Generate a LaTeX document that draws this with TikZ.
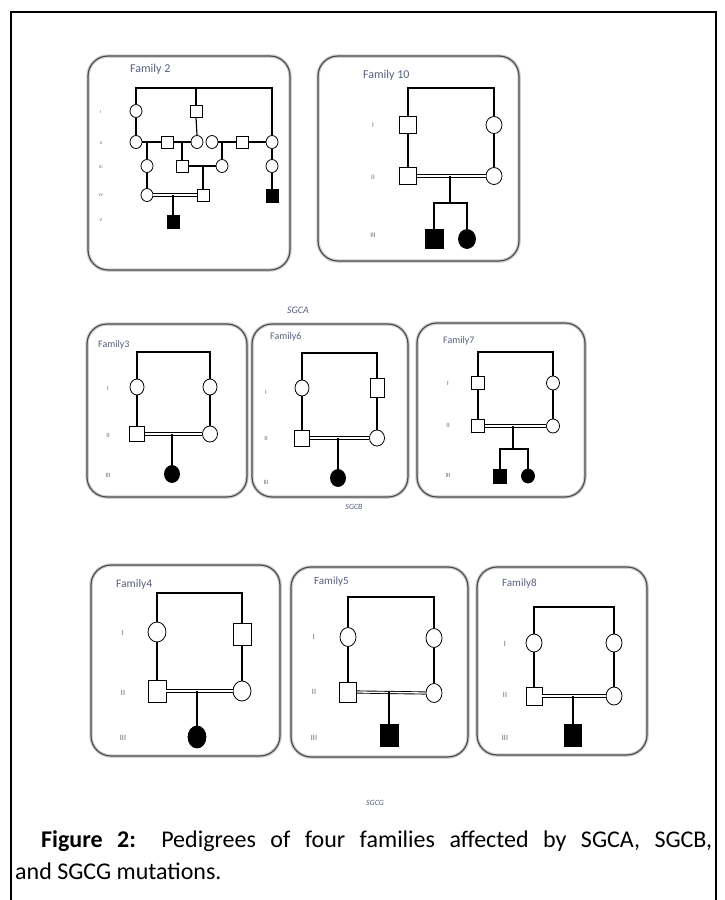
\documentclass[tikz,border=0pt]{standalone}
\usepackage{fontspec}
\setmainfont{Carlito}
\usetikzlibrary{shapes.geometric}
\definecolor{famc}{RGB}{85,95,125}
\definecolor{genc}{RGB}{100,100,100}
\begin{document}
\begin{tikzpicture}[x=1pt,y=-1pt,
 male/.style={draw, rectangle, inner sep=0pt, line width=0.8pt, fill=white},
 female/.style={draw, ellipse, inner sep=0pt, line width=0.8pt, fill=white},
 aff/.style={fill=black},
 sz/.style 2 args={minimum width=#1pt, minimum height=#2pt},
 link/.style={line width=1.5pt},
 cons/.style={double, line width=0.9pt, double distance=1.3pt},
 famframe/.style={draw=black!70, line width=1.2pt, rounded corners=20pt},
 famshadow/.style={draw=black!18, line width=3.5pt, rounded corners=20pt},
 famlabel/.style={text=famc, anchor=west, inner sep=0pt},
 gen/.style={text=genc, inner sep=0pt},
 genelabel/.style={font=\fontsize{9}{10}\selectfont\itshape, text=famc, inner sep=0pt},
]
\useasboundingbox (0,0) rectangle (724,900);
% outer frame
\draw[line width=1.2pt] (11,900) -- (11,12) -- (716,12) -- (716,900);

% ---------- family boxes ----------
\foreach \a/\b/\c/\d in {88/56/290/270, 318/56/519/261, 87/324/247/497, 252/324/408/497, 417/323/585/497, 91/565/280/756, 291/567/468/757, 477/567/647/755}{
  \draw[famshadow] (\a,\b) rectangle (\c,\d);
  \draw[famframe] (\a,\b) rectangle (\c,\d);
}

% ---------- Family 2 ----------
\node[famlabel, font=\fontsize{12}{13}\selectfont] (l2) at (130,69) {Family 2};
\begin{scope}[gen/.append style={font=\fontsize{4.5}{5}\selectfont}]
\node[gen] (g2a) at (101,112) {I};
\node[gen] (g2b) at (101,143) {II};
\node[gen] (g2c) at (101,167) {III};
\node[gen] (g2d) at (101,195) {IV};
\node[gen] (g2e) at (101,220) {V};
\end{scope}
\node[female, sz={12}{13}] (f2a) at (136,111) {};
\node[male, sz={12}{12}] (f2b) at (196,111) {};
\node[female, sz={12}{13}] (f2c) at (136,142) {};
\node[male, sz={12}{12}] (f2d) at (167,142) {};
\node[female, sz={12}{13}] (f2e) at (197,142) {};
\node[female, sz={12}{13}] (f2f) at (212,142) {};
\node[male, sz={12}{12}] (f2g) at (242,142) {};
\node[female, sz={12}{13}] (f2h) at (272,142) {};
\node[female, sz={12}{13}] (f2i) at (147,166) {};
\node[male, sz={12}{12}] (f2j) at (182,166) {};
\node[female, sz={12}{13}] (f2k) at (222,166) {};
\node[female, sz={12}{13}] (f2l) at (272,166) {};
\node[female, sz={12}{13}] (f2m) at (147,195) {};
\node[male, sz={12}{12}] (f2n) at (203,195) {};
\node[male, aff, sz={12}{13}] (f2o) at (272,196) {};
\node[male, aff, sz={12}{13}] (f2p) at (173,222) {};
\coordinate (f2tr) at (272,88);
\coordinate (f2tm) at (196,88);
\coordinate (f2x1) at (147,142);
\coordinate (f2x2) at (182,142);
\coordinate (f2x3) at (222,142);
\coordinate (f2x4) at (203,166);
\coordinate (f2x5) at (173,195);
\begin{scope}[link/.append style={line width=1.2pt}]
\draw[link] (f2a.north) |- (f2tr) -- (f2h.north);
\draw[link] (f2tm) -- (f2b.north);
\draw[link] (f2a.south) -- (f2c.north);
\draw[link] (f2b.south) -- (f2e.north);
\draw[link] (f2c.east) -- (f2d.west);
\draw[link] (f2d.east) -- (f2e.west);
\draw[link] (f2f.east) -- (f2g.west);
\draw[link] (f2g.east) -- (f2h.west);
\draw[link] (f2x1) -- (f2i.north);
\draw[link] (f2i.south) -- (f2m.north);
\draw[link] (f2x2) -- (f2j.north);
\draw[link] (f2x3) -- (f2k.north);
\draw[link] (f2j.east) -- (f2k.west);
\draw[link] (f2x4) -- (f2n.north);
\draw[cons] (f2m.east) -- (f2n.west);
\draw[link] (f2x5) -- (f2p.north);
\draw[link] (f2h.south) -- (f2l.north);
\draw[link] (f2l.south) -- (f2o.north);
\end{scope}

% ---------- Family 10 ----------
\node[famlabel, font=\fontsize{12}{13}\selectfont] (l10) at (363,75) {Family 10};
\begin{scope}[gen/.append style={font=\fontsize{7}{8}\selectfont}]
\node[gen] (g10a) at (373,125) {I};
\node[gen] (g10b) at (373,177) {II};
\node[gen] (g10c) at (373,235) {III};
\end{scope}
\node[male, sz={17}{17}] (f10a) at (408,125) {};
\node[female, sz={16}{17}] (f10b) at (494,125) {};
\node[male, sz={17}{17}] (f10c) at (408,176) {};
\node[female, sz={16}{17}] (f10d) at (494,176) {};
\node[male, aff, sz={18}{19}] (f10e) at (434,239) {};
\node[female, aff, sz={17}{19}] (f10f) at (467,239) {};
\coordinate (f10tr) at (494,88);
\coordinate (f10m) at (450,176);
\coordinate (f10s) at (450,203);
\draw[link] (f10a.north) |- (f10tr) -- (f10b.north);
\draw[link] (f10a.south) -- (f10c.north);
\draw[link] (f10b.south) -- (f10d.north);
\draw[cons] (f10c.east) -- (f10d.west);
\draw[link] (f10m) -- (f10s);
\draw[link] (f10e.north) |- (f10s) -| (f10f.north);

% ---------- SGCA ----------
\node[genelabel, font=\fontsize{10}{11}\selectfont\itshape] (sgca) at (298,310) {SGCA};

% ---------- Family 3 ----------
\node[famlabel, font=\fontsize{10}{11}\selectfont] (l3) at (98,345) {Family3};
\begin{scope}[gen/.append style={font=\fontsize{6.5}{7}\selectfont}]
\node[gen] (g3a) at (108,388) {I};
\node[gen] (g3b) at (108,435) {II};
\node[gen] (g3c) at (108,475) {III};
\end{scope}
\node[female, sz={14}{16}] (f3a) at (137,387) {};
\node[female, sz={14}{16}] (f3b) at (210,387) {};
\node[male, sz={15}{15}] (f3c) at (137,434) {};
\node[female, sz={15}{16}] (f3d) at (210,434) {};
\node[female, aff, sz={15}{17}] (f3e) at (172,474) {};
\coordinate (f3tr) at (210,352);
\coordinate (f3m) at (172,434);
\draw[link] (f3a.north) |- (f3tr) -- (f3b.north);
\draw[link] (f3a.south) -- (f3c.north);
\draw[link] (f3b.south) -- (f3d.north);
\draw[cons] (f3c.east) -- (f3d.west);
\draw[link] (f3m) -- (f3e.north);

% ---------- Family 6 ----------
\node[famlabel, font=\fontsize{10}{11}\selectfont] (l6) at (270,337) {Family6};
\begin{scope}[gen/.append style={font=\fontsize{6.5}{7}\selectfont}]
\node[gen] (g6a) at (266,392) {I};
\node[gen] (g6b) at (266,438) {II};
\node[gen] (g6c) at (266,482) {III};
\end{scope}
\node[female, sz={14}{16}] (f6a) at (302,388) {};
\node[male, sz={14}{19}] (f6b) at (377,388) {};
\node[male, sz={15}{16}] (f6c) at (302,438) {};
\node[female, sz={15}{16}] (f6d) at (377,438) {};
\node[female, aff, sz={15}{17}] (f6e) at (338,478) {};
\coordinate (f6tr) at (377,353);
\coordinate (f6m) at (338,438);
\draw[link] (f6a.north) |- (f6tr) -- (f6b.north);
\draw[link] (f6a.south) -- (f6c.north);
\draw[link] (f6b.south) -- (f6d.north);
\draw[cons] (f6c.east) -- (f6d.west);
\draw[link] (f6m) -- (f6e.north);

% ---------- Family 7 ----------
\node[famlabel, font=\fontsize{10}{11}\selectfont] (l7) at (443,341) {Family7};
\begin{scope}[gen/.append style={font=\fontsize{6.5}{7}\selectfont}]
\node[gen] (g7a) at (448,383) {I};
\node[gen] (g7b) at (448,425) {II};
\node[gen] (g7c) at (448,475) {III};
\end{scope}
\node[male, sz={13}{13}] (f7a) at (478,383) {};
\node[female, sz={13}{14}] (f7b) at (553,383) {};
\node[male, sz={13}{13}] (f7c) at (478,426) {};
\node[female, sz={13}{14}] (f7d) at (553,426) {};
\node[male, aff, sz={13}{14}] (f7e) at (500,476) {};
\node[female, aff, sz={13}{14}] (f7f) at (528,476) {};
\coordinate (f7tr) at (553,352);
\coordinate (f7m) at (513,426);
\coordinate (f7s) at (513,449);
\draw[link] (f7a.north) |- (f7tr) -- (f7b.north);
\draw[link] (f7a.south) -- (f7c.north);
\draw[link] (f7b.south) -- (f7d.north);
\draw[cons] (f7c.east) -- (f7d.west);
\draw[link] (f7m) -- (f7s);
\draw[link] (f7e.north) |- (f7s) -| (f7f.north);

% ---------- SGCB ----------
\node[genelabel, font=\fontsize{8}{9}\selectfont\itshape] (sgcb) at (354,507) {SGCB};

% ---------- Family 4 ----------
\node[famlabel, font=\fontsize{11.5}{12}\selectfont] (l4) at (116,584) {Family4};
\begin{scope}[gen/.append style={font=\fontsize{8}{9}\selectfont}]
\node[gen] (g4a) at (123,633) {I};
\node[gen] (g4b) at (123,693) {II};
\node[gen] (g4c) at (123,738) {III};
\end{scope}
\node[female, sz={18}{20}] (f4a) at (157,632) {};
\node[male, sz={18}{22}] (f4b) at (242,634) {};
\node[male, sz={18}{22}] (f4c) at (157,691) {};
\node[female, sz={18}{20}] (f4d) at (242,691) {};
\node[female, aff, sz={18}{22}] (f4e) at (197,737) {};
\coordinate (f4tr) at (242,593);
\coordinate (f4m) at (197,691);
\draw[link] (f4a.north) |- (f4tr) -- (f4b.north);
\draw[link] (f4a.south) -- (f4c.north);
\draw[link] (f4b.south) -- (f4d.north);
\draw[cons] (f4c.east) -- (f4d.west);
\draw[link] (f4m) -- (f4e.north);

% ---------- Family 5 ----------
\node[famlabel, font=\fontsize{11}{12}\selectfont] (l5) at (314,582) {Family5};
\begin{scope}[gen/.append style={font=\fontsize{8}{9}\selectfont}]
\node[gen] (g5a) at (314,637) {I};
\node[gen] (g5b) at (314,692) {II};
\node[gen] (g5c) at (314,738) {III};
\end{scope}
\node[female, sz={16}{19}] (f5a) at (348,637) {};
\node[female, sz={16}{19}] (f5b) at (434,638) {};
\node[male, sz={17}{20}] (f5c) at (348,692) {};
\node[female, sz={16}{19}] (f5d) at (434,693) {};
\node[male, aff, sz={18}{22}] (f5e) at (389,735) {};
\coordinate (f5tr) at (434,597);
\coordinate (f5m) at (389,692);
\draw[link] (f5a.north) |- (f5tr) -- (f5b.north);
\draw[link] (f5a.south) -- (f5c.north);
\draw[link] (f5b.south) -- (f5d.north);
\draw[cons] (f5c.east) -- (f5d.west);
\draw[link] (f5m) -- (f5e.north);

% ---------- Family 8 ----------
\node[famlabel, font=\fontsize{11}{12}\selectfont] (l8) at (502,584) {Family8};
\begin{scope}[gen/.append style={font=\fontsize{8}{9}\selectfont}]
\node[gen] (g8a) at (505,644) {I};
\node[gen] (g8b) at (505,695) {II};
\node[gen] (g8c) at (505,738) {III};
\end{scope}
\node[female, sz={16}{18}] (f8a) at (534,643) {};
\node[female, sz={16}{18}] (f8b) at (614,643) {};
\node[male, sz={16}{18}] (f8c) at (534,696) {};
\node[female, sz={16}{18}] (f8d) at (614,696) {};
\node[male, aff, sz={17}{22}] (f8e) at (573,735) {};
\coordinate (f8tr) at (614,607);
\coordinate (f8m) at (573,696);
\draw[link] (f8a.north) |- (f8tr) -- (f8b.north);
\draw[link] (f8a.south) -- (f8c.north);
\draw[link] (f8b.south) -- (f8d.north);
\draw[cons] (f8c.east) -- (f8d.west);
\draw[link] (f8m) -- (f8e.north);

% ---------- SGCG ----------
\node[genelabel, font=\fontsize{8}{9}\selectfont\itshape] (sgcg) at (375,803) {SGCG};

% ---------- caption ----------
\node[anchor=base west, inner sep=0pt, font=\fontsize{24}{28}\selectfont] (cap1) at (41,847)
  {\makebox[671pt][s]{\textbf{Figure 2:} Pedigrees of four families affected by SGCA, SGCB,}};
\node[anchor=base west, inner sep=0pt, font=\fontsize{24}{28}\selectfont] (cap2) at (15,879)
  {and SGCG mutations.};
\end{tikzpicture}
\end{document}
